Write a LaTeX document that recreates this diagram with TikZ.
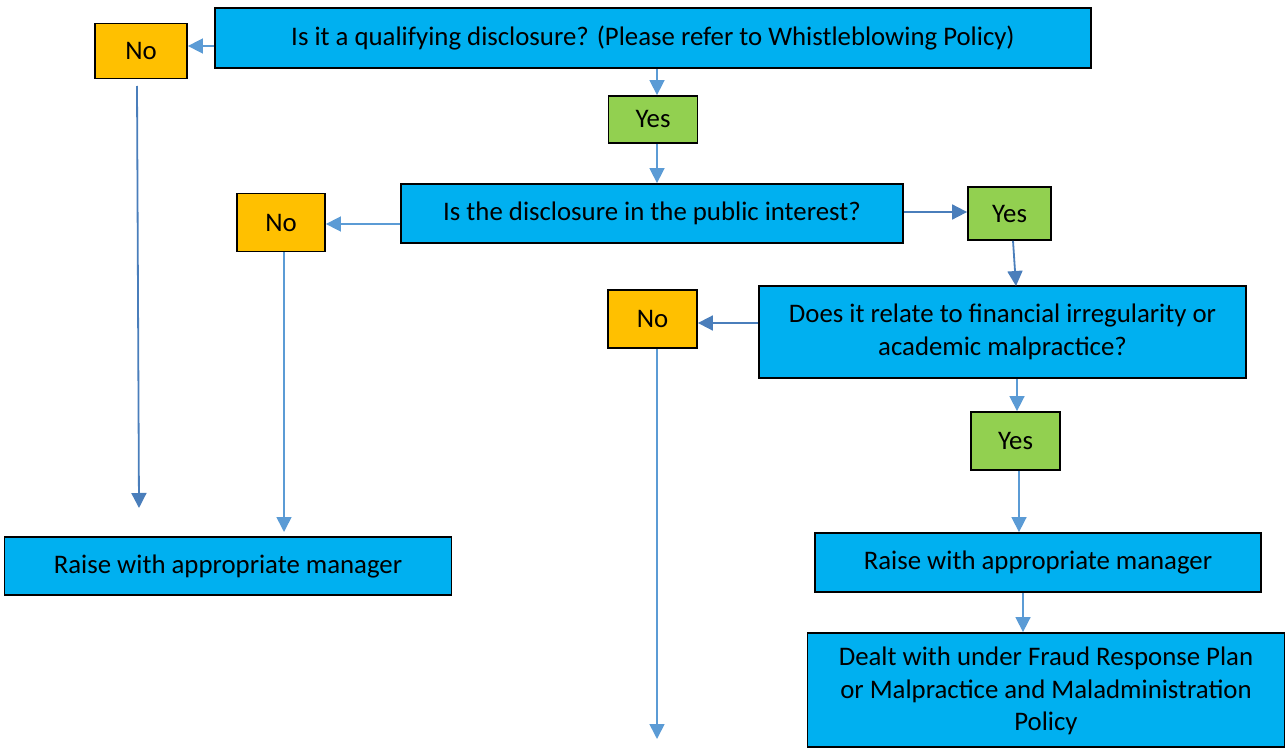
\documentclass[tikz,border=0pt]{standalone}
\usepackage{fontspec}
\setmainfont{Carlito}
\usetikzlibrary{arrows.meta}
\definecolor{boxblue}{HTML}{00B0F0}
\definecolor{boxyellow}{HTML}{FFC000}
\definecolor{boxgreen}{HTML}{92D050}
\definecolor{arrlight}{HTML}{5B9BD5}
\definecolor{arrdark}{HTML}{4A7EBB}
\tikzset{
  txt/.style={font=\fontsize{26.8}{32.5}\selectfont, text=black},
  box/.style={draw=black, line width=1.8pt, rectangle, inner sep=0pt, align=center, txt},
  bluebox/.style={box, fill=boxblue},
  nobox/.style={box, fill=boxyellow, minimum width=89pt, minimum height=57pt},
  yesbox/.style={box, fill=boxgreen},
  conn/.style={draw=arrlight, line width=1.6pt, -{Triangle[length=15pt, width=15pt]}},
  conndark/.style={draw=arrdark, line width=1.8pt, -{Triangle[length=15pt, width=15pt]}}
}
\begin{document}
\begin{tikzpicture}[x=1pt, y=-1pt]
\useasboundingbox (0,0) rectangle (1287,749);
% nodes
\node[bluebox, minimum width=876pt, minimum height=60pt] (A) at (653,38) {Is it a qualifying disclosure? (Please refer to Whistleblowing Policy)};
\node[nobox, minimum width=92pt, minimum height=55pt] (N1) at (141,51) {No};
\node[yesbox, minimum width=89pt, minimum height=47pt] (Y1) at (653,119.5) {Yes};
\node[bluebox, minimum width=502pt, minimum height=59pt] (B) at (652,213.5) {Is the disclosure in the public interest?};
\node[nobox, minimum width=88pt, minimum height=58pt] (N2) at (281,222.5) {No};
\node[yesbox, minimum width=83pt, minimum height=53pt] (Y2) at (1009.5,213.5) {Yes};
\node[bluebox, minimum width=487pt, minimum height=92pt] (C) at (1002.5,332) {Does it relate to financial irregularity or\\academic malpractice?};
\node[nobox, minimum width=89pt, minimum height=58pt] (N3) at (652.5,319) {No};
\node[yesbox, minimum width=89pt, minimum height=58pt] (Y3) at (1015.5,441) {Yes};
\node[bluebox, minimum width=446pt, minimum height=59pt] (D) at (1038,562.5) {Raise with appropriate manager};
\node[bluebox, minimum width=477pt, minimum height=114pt] (E) at (1046,690) {};
\node[txt, align=center, anchor=north, inner sep=0pt] (Et) at (1046,647) {Dealt with under Fraud Response Plan\\or Malpractice and Maladministration\\Policy};
\node[bluebox, minimum width=447pt, minimum height=58pt] (F) at (228,566) {Raise with appropriate manager};
% free ends
\coordinate (n1s) at (137,86);
\coordinate (n1e) at (139,508);
\coordinate (n2e) at (284,532);
\coordinate (n3e) at (657,739);
% connectors
\draw[conn] (A.west |- 0,46) -- (N1.east |- 0,46);
\draw[conn] (A.south -| 657,0) -- (Y1.north -| 657,0);
\draw[conn] (Y1.south -| 657,0) -- (B.north -| 657,0);
\draw[conn] (B.west |- 0,224) -- (N2.east |- 0,224);
\draw[conndark] (B.east |- 0,212) -- (Y2.west |- 0,212);
\draw[conndark] (Y2.south -| 1013,0) -- (1016,286);
\draw[conndark] (C.west |- 0,323) -- (N3.east |- 0,323);
\draw[conn] (C.south -| 1017,0) -- (Y3.north -| 1017,0);
\draw[conn] (Y3.south -| 1019,0) -- (D.north -| 1019,0);
\draw[conn] (D.south -| 1023,0) -- (E.north -| 1023,0);
\draw[conndark] (n1s) -- (n1e);
\draw[conn] (N2.south -| 284,0) -- (n2e);
\draw[conn] (N3.south -| 657,0) -- (n3e);
\end{tikzpicture}
\end{document}
